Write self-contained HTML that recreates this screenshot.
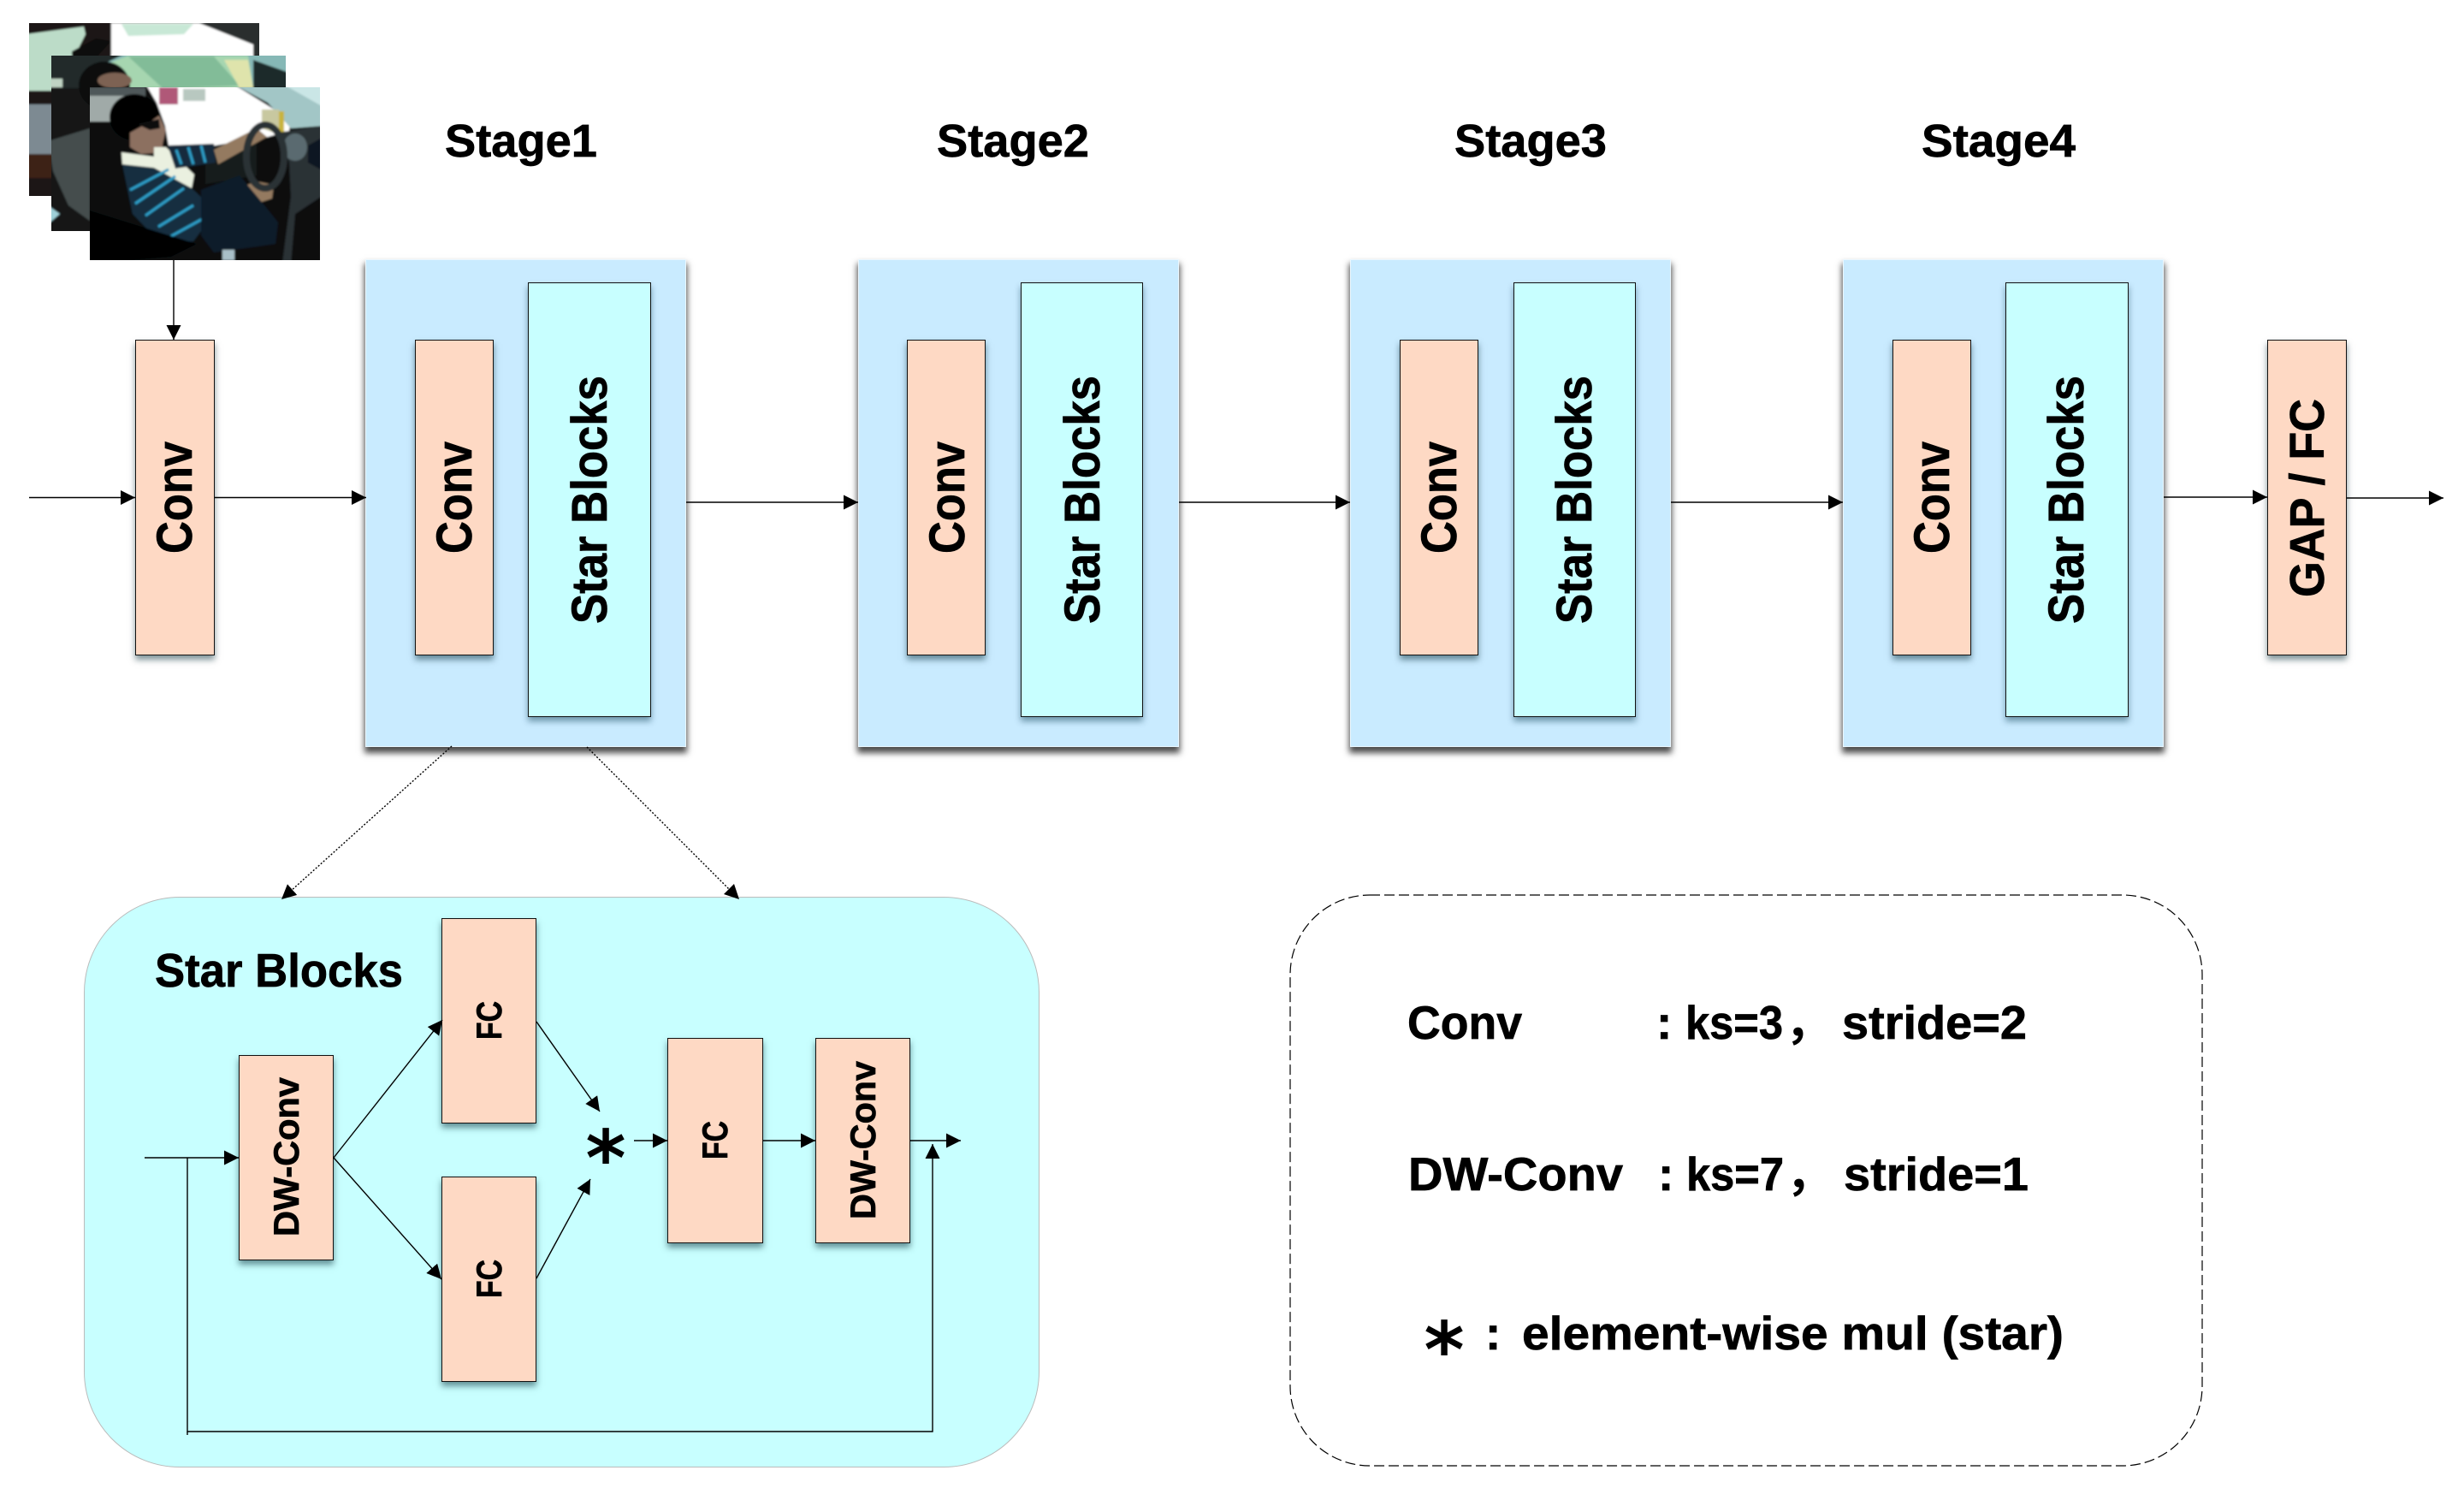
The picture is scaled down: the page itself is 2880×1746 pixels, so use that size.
<!DOCTYPE html>
<html><head><meta charset="utf-8"><style>
html,body{margin:0;padding:0;background:#fff}
#p{position:relative;width:2880px;height:1746px;overflow:hidden;background:#fff}
.b{position:absolute;box-sizing:border-box}
.s{background:#c9ebff;border:1px solid #eaf7ff;box-shadow:0 6px 7px 1px rgba(0,0,0,.7)}
.c{background:#c8ffff;border:1.5px solid #111;box-shadow:0 5px 7px rgba(0,50,70,.45)}
.o{background:#fed9c4;border:1.5px solid #111;box-shadow:0 5px 7px rgba(0,40,50,.5)}
svg{position:absolute;left:0;top:0}
text{font-family:"Liberation Sans","Noto Sans CJK SC",sans-serif;font-weight:700;fill:#000;stroke:#000;stroke-width:.7}
</style></head><body><div id="p">
<div class="b s" style="left:427px;top:303px;width:375px;height:570px"></div>
<div class="b s" style="left:1003px;top:303px;width:375px;height:570px"></div>
<div class="b s" style="left:1578px;top:303px;width:375px;height:570px"></div>
<div class="b s" style="left:2154px;top:303px;width:375px;height:570px"></div>
<div class="b o" style="left:158px;top:397px;width:93px;height:369px"></div>
<div class="b o" style="left:2650px;top:397px;width:93px;height:369px"></div>
<div class="b o" style="left:485px;top:397px;width:92px;height:369px"></div>
<div class="b o" style="left:1060px;top:397px;width:92px;height:369px"></div>
<div class="b o" style="left:1636px;top:397px;width:92px;height:369px"></div>
<div class="b o" style="left:2212px;top:397px;width:92px;height:369px"></div>
<div class="b c" style="left:617px;top:330px;width:144px;height:508px"></div>
<div class="b c" style="left:1193px;top:330px;width:143px;height:508px"></div>
<div class="b c" style="left:1769px;top:330px;width:143px;height:508px"></div>
<div class="b c" style="left:2344px;top:330px;width:144px;height:508px"></div>
<div class="b" style="left:98px;top:1048px;width:1117px;height:667px;background:#c8ffff;border:1.5px solid #bbb;border-radius:112px"></div>
<div class="b o" style="left:279px;top:1233px;width:111px;height:240px"></div>
<div class="b o" style="left:516px;top:1073px;width:111px;height:240px"></div>
<div class="b o" style="left:516px;top:1375px;width:111px;height:240px"></div>
<div class="b o" style="left:780px;top:1213px;width:112px;height:240px"></div>
<div class="b o" style="left:953px;top:1213px;width:111px;height:240px"></div>
<svg width="2880" height="1746" viewBox="0 0 2880 1746">
<defs>
<marker id="a" viewBox="0 0 17 17" refX="17" refY="8.5" markerWidth="17" markerHeight="17" markerUnits="userSpaceOnUse" orient="auto"><path d="M0,0L17,8.5L0,17z" fill="#000"/></marker>
<clipPath id="cb"><rect x="34" y="27" width="269" height="202"/></clipPath>
<clipPath id="cm"><rect x="60" y="65" width="274" height="205"/></clipPath>
<clipPath id="cf"><rect x="105" y="102" width="269" height="202"/></clipPath>
<filter id="bl" x="-5%" y="-5%" width="110%" height="110%"><feGaussianBlur stdDeviation="1"/></filter>
</defs>
<!-- back photo -->
<g clip-path="url(#cb)"><g filter="url(#bl)">
<rect x="30" y="23" width="277" height="210" fill="#1b1512"/>
<polygon points="30,40 98,31 100,40 90,60 90,106 30,106" fill="#bcdcc8"/>
<rect x="130" y="23" width="177" height="46" fill="#fff"/>
<polygon points="130,23 233,23 307,23 307,70 296,70 296,52 233,27 130,27" fill="#2a2f2e"/>
<polygon points="142,28 226,28 215,40 150,42" fill="#c8e8d6"/>
<polygon points="84,60 112,45 130,48 110,70 84,70" fill="#0a0a0a"/>
<rect x="30" y="122" width="32" height="58" fill="#7d8a92"/>
<rect x="30" y="180" width="32" height="28" fill="#3c2418"/>
</g></g>
<!-- middle photo -->
<g clip-path="url(#cm)"><g filter="url(#bl)">
<rect x="56" y="61" width="282" height="213" fill="#131818"/>
<rect x="56" y="61" width="282" height="42" fill="#86b8b6"/>
<polygon points="56,61 150,61 106,82 106,103 56,103" fill="#232a2a"/>
<polygon points="106,82 150,65 290,65 296,103 106,103" fill="#a6d6b0"/>
<polygon points="150,66 250,66 280,100 190,103" fill="#82bc98"/>
<polygon points="262,70 290,70 296,103 280,103" fill="#dfe4ac"/>
<polygon points="296,70 338,85 338,103 296,103" fill="#1e2a2a"/>
<ellipse cx="122" cy="100" rx="30" ry="28" fill="#0c0e0e"/>
<ellipse cx="134" cy="94" rx="20" ry="9" fill="#7d6252"/>
<polygon points="56,92 73,92 73,102 56,102" fill="#c0d4c4"/>
<polygon points="56,165 105,150 105,258 80,240 62,200" fill="#454e4e"/>
<polygon points="56,240 70,250 56,262" fill="#9fd0d8"/>
</g></g>
<!-- front photo -->
<g clip-path="url(#cf)"><g filter="url(#bl)">
<rect x="101" y="98" width="277" height="210" fill="#070f10"/>
<polygon points="170,98 272,98 340,140 338,153 313,160 253,172 197,170 193,147 183,120" fill="#fff"/>
<polygon points="272,98 378,98 378,147 340,150 313,120" fill="#a2c6c6"/>
<polygon points="330,98 378,98 378,125" fill="#cae6e6"/>
<rect x="101" y="102" width="69" height="12" fill="#50585a"/>
<rect x="101" y="112" width="48" height="30" fill="#a0aaa8"/>
<rect x="186" y="102" width="22" height="20" fill="#b05878"/>
<rect x="214" y="104" width="26" height="14" fill="#b8c8c0"/>
<polygon points="306,128 326,128 334,160 306,150" fill="#c8c8a0"/>
<polygon points="326,130 332,130 332,158 326,156" fill="#c8b43c"/>
<polygon points="325,155 378,147 378,308 330,308 340,230 338,190" fill="#2a3236"/>
<ellipse cx="345" cy="172" rx="14" ry="16" fill="#5a6a70"/>
<polygon points="360,170 378,160 378,200 360,190" fill="#111820"/>
<polygon points="345,250 378,228 378,308 340,308" fill="#0d0f10"/>
<polygon points="240,172 300,162 300,205 240,215" fill="#141c1c"/>
<ellipse cx="157" cy="137" rx="29" ry="27" fill="#040606"/>
<polygon points="152,155 176,142 186,135 194,152 190,168 190,178 165,180 152,172" fill="#8c7060"/>
<polygon points="160,145 186,139 187,150 175,152" fill="#0a0a0a"/>
<polygon points="142,178 180,183 180,172 194,172 227,204 224,220 186,200 143,192" fill="#eaf0e0"/>
<polygon points="143,192 180,196 224,220 240,235 247,254 226,282 186,282 155,250" fill="#162e40"/>
<polygon points="196,170 250,168 252,190 205,197" fill="#14293c"/>
<g stroke="#2f9cc6" stroke-width="3.2" fill="none"><path d="M152,222L197,198M158,238L205,206M170,252L215,220M185,265L226,240M200,276L240,254M206,175L212,192M220,172L226,192M235,170L240,190"/></g>
<polygon points="250,175 300,150 312,160 255,192" fill="#947a60"/>
<polygon points="244,232 300,212 320,216 318,232 250,254" fill="#947a60"/>
<polygon points="235,222 280,205 305,235 325,260 322,285 250,295 235,275" fill="#0c1a2c"/>
<ellipse cx="310" cy="183" rx="22" ry="37" fill="none" stroke="#2c3234" stroke-width="8"/>
<rect x="260" y="292" width="14" height="12" fill="#a8c0c8"/>
<polygon points="101,245 230,285 200,300 101,308" fill="#030505"/>
</g></g>
<!-- top arrows -->
<g stroke="#000" stroke-width="1.4" fill="none">
<line x1="203" y1="304" x2="203" y2="397" marker-end="url(#a)"/>
<line x1="34" y1="581.5" x2="158" y2="581.5" marker-end="url(#a)"/>
<line x1="251" y1="581.5" x2="428" y2="581.5" marker-end="url(#a)"/>
<line x1="802" y1="587" x2="1003" y2="587" marker-end="url(#a)"/>
<line x1="1378" y1="587" x2="1578" y2="587" marker-end="url(#a)"/>
<line x1="1953" y1="587" x2="2154" y2="587" marker-end="url(#a)"/>
<line x1="2529" y1="581" x2="2650" y2="581" marker-end="url(#a)"/>
<line x1="2743" y1="582" x2="2856" y2="582" marker-end="url(#a)"/>
<line x1="528" y1="872" x2="329" y2="1051" stroke-dasharray="2 2" marker-end="url(#a)"/>
<line x1="686" y1="873" x2="864" y2="1051" stroke-dasharray="2 2" marker-end="url(#a)"/>
<!-- block arrows -->
<line x1="169" y1="1353" x2="279" y2="1353" marker-end="url(#a)"/>
<polyline points="219,1353 219,1673 1090,1673 1090,1337" marker-end="url(#a)"/>
<line x1="219" y1="1673" x2="219" y2="1677"/>
<line x1="1064" y1="1333" x2="1123" y2="1333" marker-end="url(#a)"/>
<line x1="741" y1="1333" x2="780" y2="1333" marker-end="url(#a)"/>
<line x1="892" y1="1333" x2="953" y2="1333" marker-end="url(#a)"/>
<line x1="390" y1="1353" x2="517" y2="1192" marker-end="url(#a)"/>
<line x1="390" y1="1353" x2="516" y2="1495" marker-end="url(#a)"/>
<line x1="627" y1="1194" x2="701" y2="1299" marker-end="url(#a)"/>
<line x1="627" y1="1494" x2="690" y2="1378" marker-end="url(#a)"/>
<rect x="1508" y="1046" width="1066" height="667" rx="93" ry="93" stroke-width="1.2" stroke-dasharray="12 5"/>
</g>
<!-- stage labels -->
<text x="520" y="183" font-size="54" textLength="178" lengthAdjust="spacingAndGlyphs">Stage1</text>
<text x="1095" y="183" font-size="54" textLength="178" lengthAdjust="spacingAndGlyphs">Stage2</text>
<text x="1700" y="183" font-size="54" textLength="178" lengthAdjust="spacingAndGlyphs">Stage3</text>
<text x="2246" y="183" font-size="54" textLength="180" lengthAdjust="spacingAndGlyphs">Stage4</text>
<!-- vertical labels -->
<text transform="translate(224,647) rotate(-90)" font-size="58" textLength="131" lengthAdjust="spacingAndGlyphs">Conv</text>
<text transform="translate(551,647) rotate(-90)" font-size="58" textLength="131" lengthAdjust="spacingAndGlyphs">Conv</text>
<text transform="translate(1127,647) rotate(-90)" font-size="58" textLength="131" lengthAdjust="spacingAndGlyphs">Conv</text>
<text transform="translate(1702,647) rotate(-90)" font-size="58" textLength="131" lengthAdjust="spacingAndGlyphs">Conv</text>
<text transform="translate(2278,647) rotate(-90)" font-size="58" textLength="131" lengthAdjust="spacingAndGlyphs">Conv</text>
<text transform="translate(709,729) rotate(-90)" font-size="58" textLength="290" lengthAdjust="spacingAndGlyphs">Star Blocks</text>
<text transform="translate(1285,729) rotate(-90)" font-size="58" textLength="290" lengthAdjust="spacingAndGlyphs">Star Blocks</text>
<text transform="translate(1860,729) rotate(-90)" font-size="58" textLength="290" lengthAdjust="spacingAndGlyphs">Star Blocks</text>
<text transform="translate(2435,729) rotate(-90)" font-size="58" textLength="290" lengthAdjust="spacingAndGlyphs">Star Blocks</text>
<text transform="translate(2716,698) rotate(-90)" font-size="57" textLength="232" lengthAdjust="spacingAndGlyphs">GAP / FC</text>
<text x="181" y="1153" font-size="55" textLength="290" lengthAdjust="spacingAndGlyphs">Star Blocks</text>
<text transform="translate(349,1445) rotate(-90)" font-size="42" textLength="186" lengthAdjust="spacingAndGlyphs">DW-Conv</text>
<text transform="translate(1023,1425) rotate(-90)" font-size="42" textLength="185" lengthAdjust="spacingAndGlyphs">DW-Conv</text>
<text transform="translate(586,1215) rotate(-90)" font-size="42" textLength="45" lengthAdjust="spacingAndGlyphs">FC</text>
<text transform="translate(586,1517) rotate(-90)" font-size="42" textLength="45" lengthAdjust="spacingAndGlyphs">FC</text>
<text transform="translate(850,1355) rotate(-90)" font-size="42" textLength="45" lengthAdjust="spacingAndGlyphs">FC</text>
<text x="708" y="1385" font-size="90" text-anchor="middle" style="font-family:'DejaVu Sans',sans-serif;font-weight:700;stroke:none">*</text>
<!-- legend -->
<text x="1645" y="1214" font-size="55" textLength="134" lengthAdjust="spacingAndGlyphs">Conv</text>
<text x="1936" y="1214" font-size="55">:</text>
<text x="1970" y="1214" font-size="55" textLength="114" lengthAdjust="spacingAndGlyphs">ks=3</text>
<text x="2086" y="1214" font-size="55" style="stroke:none">，</text>
<text x="2153" y="1214" font-size="55" textLength="216" lengthAdjust="spacingAndGlyphs">stride=2</text>
<text x="1646" y="1391" font-size="55" textLength="251" lengthAdjust="spacingAndGlyphs">DW-Conv</text>
<text x="1938" y="1391" font-size="55">:</text>
<text x="1971" y="1391" font-size="55" textLength="114" lengthAdjust="spacingAndGlyphs">ks=7</text>
<text x="2087" y="1391" font-size="55" style="stroke:none">，</text>
<text x="2155" y="1391" font-size="55" textLength="216" lengthAdjust="spacingAndGlyphs">stride=1</text>
<text x="1688" y="1609" font-size="90" text-anchor="middle" style="font-family:'DejaVu Sans',sans-serif;font-weight:700;stroke:none">*</text>
<text x="1736" y="1577" font-size="55">:</text>
<text x="1779" y="1577" font-size="55" textLength="633" lengthAdjust="spacingAndGlyphs">element-wise mul (star)</text>
</svg>
</div></body></html>
